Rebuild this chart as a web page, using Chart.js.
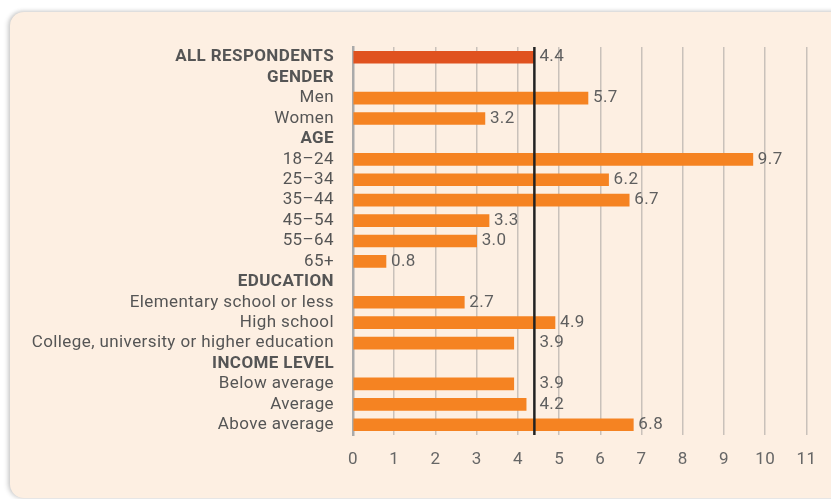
<!DOCTYPE html>
<html>
<head>
<meta charset="utf-8">
<script src="https://cdn.jsdelivr.net/npm/chart.js@4/dist/chart.umd.min.js"></script>
<style>
  html, body { margin: 0; padding: 0; background: #ffffff; overflow: hidden; }
  .card {
    position: absolute; left: 10px; top: 12px; width: 840px; height: 486px;
    background: #fdefe2; border-radius: 14px;
    box-shadow: -2px 0 5px rgba(0,0,0,0.18), 0 -1px 4px rgba(0,0,0,0.10);
  }
  #wrap { position: absolute; left: 0; top: 0; width: 831px; height: 499px; }
</style>
</head>
<body>
<div class="card"></div>
<div id="wrap"><canvas id="myChart"></canvas></div>
<script>
const categories = [
  'ALL RESPONDENTS', 'GENDER', 'Men', 'Women', 'AGE',
  '18–24', '25–34', '35–44', '45–54', '55–64', '65+',
  'EDUCATION', 'Elementary school or less', 'High school',
  'College, university or higher education',
  'INCOME LEVEL', 'Below average', 'Average', 'Above average'
];
const headings = ['ALL RESPONDENTS', 'GENDER', 'AGE', 'EDUCATION', 'INCOME LEVEL'];
const values = [4.4, null, 5.7, 3.2, null, 9.7, 6.2, 6.7, 3.3, 3.0, 0.8, null, 2.7, 4.9, 3.9, null, 3.9, 4.2, 6.8];
const averageValue = 4.4;
const xTicks = [0, 1, 2, 3, 4, 5, 6, 7, 8, 9, 10, 11];

const barColors = values.map((v, i) => i === 0 ? '#e0521f' : '#f58322');

// wider letters, closer to the original typeface
const spacing = {
  id: 'spacing',
  beforeInit(chart) { chart.ctx.letterSpacing = '0.4px'; },
  beforeDraw(chart) { chart.ctx.letterSpacing = '0.4px'; }
};

// black average line
const avgLine = {
  id: 'avgLine',
  afterDatasetsDraw(chart) {
    const ctx = chart.ctx;
    const x = chart.scales.x.getPixelForValue(averageValue);
    ctx.save();
    ctx.strokeStyle = '#222222';
    ctx.lineWidth = 2.5;
    ctx.beginPath();
    ctx.moveTo(x, chart.chartArea.top);
    ctx.lineTo(x, chart.chartArea.bottom);
    ctx.stroke();
    ctx.restore();
  }
};

// value labels next to bar ends, pushed past the average line when too close
const valueLabels = {
  id: 'valueLabels',
  afterDraw(chart) {
    const ctx = chart.ctx;
    const meta = chart.getDatasetMeta(0);
    const avgX = chart.scales.x.getPixelForValue(averageValue);
    ctx.save();
    ctx.font = '17px Roboto';
    ctx.fillStyle = '#5f5f5f';
    ctx.textBaseline = 'middle';
    meta.data.forEach((bar, i) => {
      if (values[i] === null) return;
      let x = bar.x + 5;
      if (bar.x < avgX && bar.x > avgX - 30) x = avgX + 5;
      ctx.fillText(values[i].toFixed(1), x, bar.y);
    });
    ctx.restore();
  }
};

new Chart(document.getElementById('myChart'), {
  type: 'bar',
  data: {
    labels: categories,
    datasets: [{
      data: values,
      backgroundColor: barColors,
      borderWidth: 0,
      barThickness: 12
    }]
  },
  options: {
    indexAxis: 'y',
    responsive: true,
    maintainAspectRatio: false,
    animation: false,
    layout: { padding: { top: 47, right: 12, bottom: 0, left: 0 } },
    plugins: { legend: { display: false }, tooltip: { enabled: false } },
    scales: {
      x: {
        min: 0,
        max: 11,
        afterBuildTicks: scale => { scale.ticks = xTicks.map(v => ({ value: v })); },
        afterFit: scale => { scale.height = 64; },
        grid: { color: '#c9c1ba', lineWidth: 1.5, drawTicks: false },
        border: { display: false },
        ticks: {
          padding: 15,
          color: '#666666',
          font: { family: 'Roboto', size: 17 }
        }
      },
      y: {
        afterFit: scale => { scale.width = 353; },
        grid: { display: false, drawTicks: false },
        border: { display: true, color: '#aaaaaa', width: 2.5 },
        ticks: {
          padding: 19,
          autoSkip: false,
          color: '#555555',
          font: ctx => ({
            family: 'Roboto',
            size: 17,
            weight: headings.includes(categories[ctx.index]) ? 'bold' : 'normal'
          })
        }
      }
    }
  },
  plugins: [spacing, avgLine, valueLabels]
});
</script>
</body>
</html>
